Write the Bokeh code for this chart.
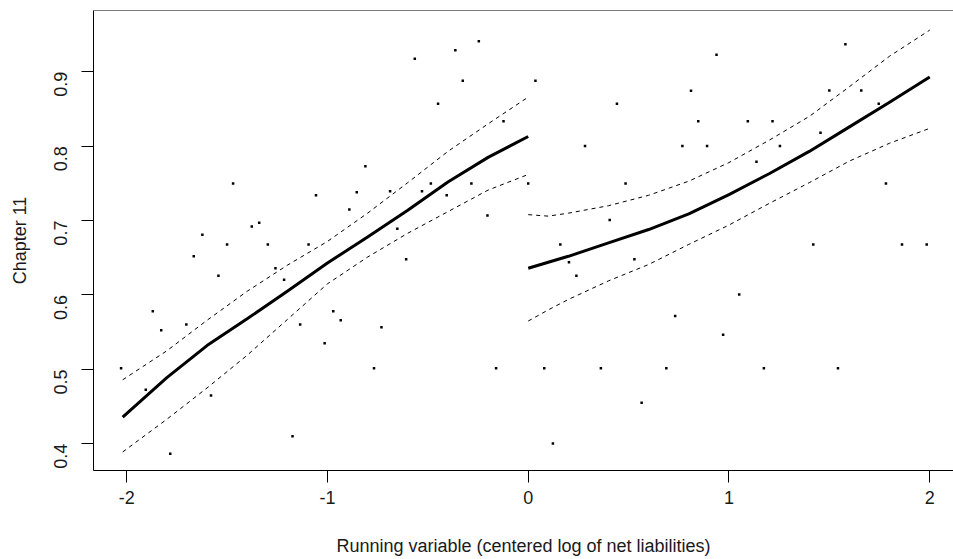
import math
from bokeh.plotting import figure
from bokeh.models import Range1d, FixedTicker, Span
from bokeh.embed import file_html
from bokeh.resources import INLINE

# ---- scatter points (binned means) ----
pts_x = [-2.028, -1.905, -1.870, -1.828, -1.783, -1.703, -1.666, -1.623, -1.580, -1.543,
         -1.500, -1.470, -1.377, -1.340, -1.297, -1.259, -1.216, -1.174, -1.136, -1.094,
         -1.057, -1.014, -0.971, -0.934, -0.891, -0.854, -0.811, -0.768, -0.731, -0.688,
         -0.652, -0.608, -0.565, -0.529, -0.485, -0.449, -0.406, -0.363, -0.326, -0.283,
         -0.246, -0.203, -0.160, -0.123, 0.000, 0.036, 0.080, 0.123, 0.160, 0.203,
         0.240, 0.283, 0.362, 0.406, 0.442, 0.485, 0.529, 0.565, 0.688, 0.732,
         0.768, 0.811, 0.847, 0.891, 0.938, 0.971, 1.051, 1.094, 1.137, 1.174,
         1.217, 1.254, 1.420, 1.456, 1.500, 1.543, 1.580, 1.659, 1.746, 1.782,
         1.862, 1.985]
pts_y = [0.5015, 0.4725, 0.578, 0.5525, 0.3866, 0.5605, 0.652, 0.681, 0.465, 0.626,
         0.668, 0.750, 0.692, 0.697, 0.668, 0.636, 0.6205, 0.410, 0.5605, 0.668,
         0.734, 0.535, 0.578, 0.566, 0.715, 0.738, 0.773, 0.5015, 0.5565, 0.7396,
         0.689, 0.648, 0.9176, 0.7396, 0.750, 0.857, 0.734, 0.929, 0.888, 0.750,
         0.941, 0.707, 0.5015, 0.8336, 0.750, 0.888, 0.5015, 0.4004, 0.668, 0.644,
         0.626, 0.8004, 0.5015, 0.7008, 0.857, 0.750, 0.648, 0.455, 0.5015, 0.5718,
         0.8004, 0.8746, 0.8336, 0.8004, 0.923, 0.5467, 0.6008, 0.8336, 0.779, 0.5015,
         0.8336, 0.8004, 0.668, 0.818, 0.875, 0.5015, 0.937, 0.875, 0.857, 0.750,
         0.668, 0.668]

# ---- left side fit (x < 0) ----
left_x = [-2.02, -1.8, -1.6, -1.4, -1.2, -1.0, -0.8, -0.6, -0.4, -0.2, 0.0]
left_fit = [0.436, 0.489, 0.532, 0.568, 0.605, 0.643, 0.678, 0.714, 0.752, 0.785, 0.813]
left_hi = [0.486, 0.525, 0.566, 0.605, 0.640, 0.672, 0.710, 0.751, 0.793, 0.830, 0.866]
left_lo = [0.389, 0.433, 0.475, 0.519, 0.567, 0.615, 0.651, 0.683, 0.712, 0.741, 0.762]

# ---- right side fit (x >= 0) ----
right_x = [0.0, 0.1, 0.2, 0.4, 0.6, 0.8, 1.0, 1.2, 1.4, 1.6, 1.8, 2.0]
right_fit = [0.636, 0.644, 0.652, 0.670, 0.688, 0.709, 0.735, 0.763, 0.793, 0.826, 0.859, 0.893]
right_hi = [0.708, 0.706, 0.710, 0.720, 0.734, 0.753, 0.778, 0.808, 0.840, 0.880, 0.921, 0.956]
right_lo = [0.565, 0.580, 0.594, 0.619, 0.641, 0.668, 0.694, 0.723, 0.751, 0.780, 0.804, 0.824]

x_ticks = [-2, -1, 0, 1, 2]
y_ticks = [0.4, 0.5, 0.6, 0.7, 0.8, 0.9]

FONT = "Liberation Sans"
TXT = "#1a1a1a"

p = figure(width=953, height=559, output_backend="svg", toolbar_location=None,
           x_range=Range1d(-2.1654, 2.1185), y_range=Range1d(0.3641, 0.9824),
           min_border_left=93, min_border_right=0, min_border_top=10, min_border_bottom=89)
p.outline_line_color = None
p.xgrid.visible = False
p.ygrid.visible = False
p.background_fill_color = "white"
p.border_fill_color = "white"

for ax in (p.xaxis[0], p.yaxis[0]):
    ax.axis_line_color = "black"
    ax.axis_line_width = 1
    ax.major_tick_line_color = "black"
    ax.major_tick_in = 0
    ax.major_tick_out = 12
    ax.minor_tick_line_color = None
    ax.major_label_text_font = FONT
    ax.major_label_text_font_size = "18px"
    ax.major_label_text_color = TXT
    ax.axis_label_text_font = FONT
    ax.axis_label_text_font_size = "18px"
    ax.axis_label_text_font_style = "normal"
    ax.axis_label_text_color = TXT

p.xaxis.ticker = FixedTicker(ticks=x_ticks)
p.yaxis.ticker = FixedTicker(ticks=y_ticks)
p.xaxis.major_label_overrides = {-2: "-2", -1: "-1", 0: "0", 1: "1", 2: "2"}
p.xaxis.axis_label = "Running variable (centered log of net liabilities)"
p.yaxis.axis_label = "Chapter 11"
p.yaxis.major_label_orientation = math.pi / 2
p.xaxis.major_label_standoff = 8
p.yaxis.major_label_standoff = 21
p.xaxis.axis_label_standoff = 29
p.yaxis.axis_label_standoff = 15

# top border of the box
p.add_layout(Span(location=0.9824, dimension="width", line_color="black", line_width=1))

# fitted lines and confidence bands
p.line(left_x, left_fit, line_color="black", line_width=3, line_join="round")
p.line(left_x, left_hi, line_color="black", line_width=1, line_dash="4 4")
p.line(left_x, left_lo, line_color="black", line_width=1, line_dash="4 4")
p.line(right_x, right_fit, line_color="black", line_width=3, line_join="round")
p.line(right_x, right_hi, line_color="black", line_width=1, line_dash="4 4")
p.line(right_x, right_lo, line_color="black", line_width=1, line_dash="4 4")

# points
p.scatter(pts_x, pts_y, marker="square", size=2.5, fill_color="black", line_color=None)

open("out.html", "w").write(file_html(p, INLINE))
